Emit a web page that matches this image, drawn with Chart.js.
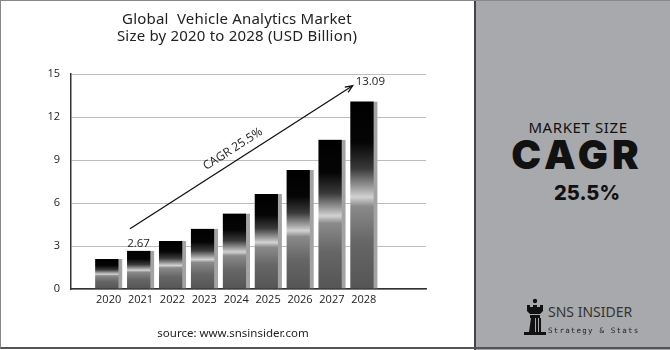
<!DOCTYPE html>
<html>
<head>
<meta charset="utf-8">
<script src="https://cdn.jsdelivr.net/npm/chart.js@4.4.1/dist/chart.umd.min.js"></script>
<style>
  html, body { margin: 0; padding: 0; }
  body { width: 670px; height: 350px; position: relative; overflow: hidden; background: #fff; font-family: "Noto Sans", sans-serif; }
  #chartBox { position: absolute; left: 0; top: 0; width: 474px; height: 350px; }
  #title { position: absolute; left: 0; top: 10px; width: 474px; text-align: center; font-family: "Noto Sans", sans-serif; font-size: 15px; line-height: 17px; color: #222; white-space: pre; letter-spacing: 0.2px; }
  #source { position: absolute; left: 0; top: 325px; width: 466px; text-align: center; font-family: "Noto Sans", sans-serif; font-size: 11.5px; color: #222; }
  #panel { position: absolute; left: 474px; top: 0; width: 196px; height: 350px; background: #a8a9ac; border-left: 2px solid #444; box-sizing: border-box; }
  .pt { position: absolute; left: 0; width: 194px; text-align: center; color: #111; white-space: nowrap; }
  #ms { top: 117px; left: 5px; font-family: "Noto Sans", sans-serif; font-size: 15px; letter-spacing: 0.6px; }
  #cagr { top: 131px; left: 4px; font-family: Inter, sans-serif; font-weight: 900; font-size: 40px; line-height: 48px; letter-spacing: 4px; }
  #pct { top: 180px; left: 14px; font-family: Inter, sans-serif; font-weight: 800; font-size: 20px; line-height: 26px; }
  #logoName { position: absolute; left: 72px; top: 302px; font-family: "Noto Sans", sans-serif; font-size: 14px; color: #333; }
  #logoTag { position: absolute; left: 72px; top: 326px; font-family: "DejaVu Sans Mono", monospace; font-size: 7.5px; color: #222; letter-spacing: 1.2px; }
  #logoIcon { position: absolute; left: 46px; top: 298px; }
  #border { position: absolute; left: 0; top: 0; width: 670px; height: 349px; border-top: 1px solid #888; border-left: 1px solid #888; border-bottom: 2px solid #555; box-sizing: border-box; pointer-events: none; }
</style>
</head>
<body>
<div id="chartBox"><canvas id="c" width="474" height="350"></canvas></div>
<div id="title">Global  Vehicle Analytics Market
Size by 2020 to 2028 (USD Billion)</div>
<div id="source">source: www.snsinsider.com</div>
<div id="panel">
  <div class="pt" id="ms">MARKET SIZE</div>
  <div class="pt" id="cagr">CAGR</div>
  <div class="pt" id="pct">25.5%</div>
  <svg id="logoIcon" width="26" height="40" viewBox="0 0 26 40">
    <circle cx="13" cy="3" r="2.2" fill="#111"/>
    <path d="M5 7 h3 v2 h3 v-2 h4 v2 h3 v-2 h3 v6 l-3 3 h-10 l-3 -3 z" fill="#111"/>
    <rect x="8" y="17" width="10" height="3" fill="#111"/>
    <path d="M9 20 h4 v14 h-6 z" fill="#111"/>
    <rect x="14" y="20" width="2" height="14" fill="#111"/>
    <rect x="17" y="20" width="2" height="14" fill="#111"/>
    <rect x="2" y="34" width="22" height="3" fill="#111"/>
  </svg>
  <div id="logoName">SNS INSIDER</div>
  <div id="logoTag">Strategy &amp; Stats</div>
</div>
<div id="border"></div>
<script>
// ---- data ----
const years = [2020, 2021, 2022, 2023, 2024, 2025, 2026, 2027, 2028];
const marketSize = [2.1, 2.67, 3.35, 4.2, 5.27, 6.62, 8.3, 10.42, 13.09];
const yTicks = [0, 3, 6, 9, 12, 15];
const labelledYears = { 2021: "2.67", 2028: "13.09" };
const cagrText = "CAGR 25.5%";
const arrowFrom = [2020.67, 4.2];
const arrowTo = [2027.65, 14.18];

function barGradient(context) {
  const chart = context.chart;
  if (!chart.chartArea) return '#333';
  const ys = chart.scales.y;
  const v = context.parsed ? context.parsed.y : 0;
  const top = ys.getPixelForValue(v);
  const bottom = ys.getPixelForValue(0);
  if (!isFinite(top) || bottom - top < 1) return '#333';
  const g = chart.ctx.createLinearGradient(0, top, 0, bottom);
  g.addColorStop(0, '#000');
  g.addColorStop(0.22, '#050505');
  g.addColorStop(0.36, '#3a3a3a');
  g.addColorStop(0.47, '#a8a8a8');
  g.addColorStop(0.51, '#d2d2d2');
  g.addColorStop(0.56, '#8a8a8a');
  g.addColorStop(0.75, '#666');
  g.addColorStop(1, '#555');
  return g;
}

const annotations = {
  id: 'annotations',
  afterDatasetsDraw(chart) {
    const { ctx, scales } = chart;
    const xs = scales.x, ys = scales.y;
    const meta = chart.getDatasetMeta(0);
    ctx.save();
    ctx.fillStyle = '#222';
    ctx.font = '11.5px "Open Sans", sans-serif';
    ctx.textAlign = 'center';
    ctx.textBaseline = 'alphabetic';
    meta.data.forEach((bar, i) => {
      const lbl = labelledYears[years[i]];
      if (!lbl) return;
      if (years[i] === 2028) {
        const p = xs.getPixelForValue(arrowTo[0]);
        ctx.textAlign = 'left';
        ctx.fillText(lbl, p + 3, ys.getPixelForValue(arrowTo[1]) - 1);
        ctx.textAlign = 'center';
      } else {
        ctx.fillText(lbl, bar.x - 2, bar.y - 4);
      }
    });
    // arrow
    const x1 = xs.getPixelForValue(arrowFrom[0]), y1 = ys.getPixelForValue(arrowFrom[1]);
    const x2 = xs.getPixelForValue(arrowTo[0]), y2 = ys.getPixelForValue(arrowTo[1]);
    const ang = Math.atan2(y2 - y1, x2 - x1);
    ctx.strokeStyle = '#111';
    ctx.lineWidth = 1.3;
    ctx.beginPath(); ctx.moveTo(x1, y1); ctx.lineTo(x2, y2); ctx.stroke();
    ctx.beginPath();
    ctx.moveTo(x2 - 8 * Math.cos(ang - 0.4), y2 - 8 * Math.sin(ang - 0.4));
    ctx.lineTo(x2, y2);
    ctx.lineTo(x2 - 8 * Math.cos(ang + 0.4), y2 - 8 * Math.sin(ang + 0.4));
    ctx.stroke();
    // cagr text
    const t = 0.49;
    const mx = x1 + (x2 - x1) * t, my = y1 + (y2 - y1) * t;
    ctx.translate(mx, my);
    ctx.rotate(ang);
    ctx.font = '12px "Open Sans", sans-serif';
    ctx.textAlign = 'center';
    ctx.fillText(cagrText, 0, -8);
    ctx.restore();
  }
};

new Chart(document.getElementById('c'), {
  type: 'bar',
  data: {
    datasets: [{
      data: years.map((yr, i) => ({ x: yr, y: marketSize[i] })),
      backgroundColor: barGradient,
      borderColor: '#a3a3a3',
      borderWidth: { top: 0, right: 4, bottom: 0, left: 0 },
      borderSkipped: false,
      barThickness: 27
    }]
  },
  options: {
    responsive: false,
    animation: false,
    devicePixelRatio: 1,
    layout: { padding: { left: 31, right: 48, top: 74, bottom: 41 } },
    plugins: { legend: { display: false }, tooltip: { enabled: false } },
    scales: {
      x: {
        type: 'linear',
        offset: false,
        min: 2018.82,
        max: 2029.95,
        afterBuildTicks: s => { s.ticks = years.map(v => ({ value: v })); },
        afterFit: s => { s.height = 20; },
        grid: { display: false, drawTicks: false, offset: false },
        border: { display: true, color: '#333', width: 1.5 },
        ticks: { color: '#222', font: { family: 'Open Sans', size: 11 }, padding: 4, maxRotation: 0, autoSkip: false, callback: v => String(v) }
      },
      y: {
        min: 0,
        max: 15,
        afterBuildTicks: s => { s.ticks = yTicks.map(v => ({ value: v })); },
        afterFit: s => { s.width = 40; },
        grid: { color: '#bdbdbd', lineWidth: 1, drawTicks: false },
        border: { display: true, color: '#333', width: 1.5 },
        ticks: { color: '#222', font: { family: 'Open Sans', size: 11 }, padding: 11 }
      }
    }
  },
  plugins: [annotations]
});
</script>
</body>
</html>
